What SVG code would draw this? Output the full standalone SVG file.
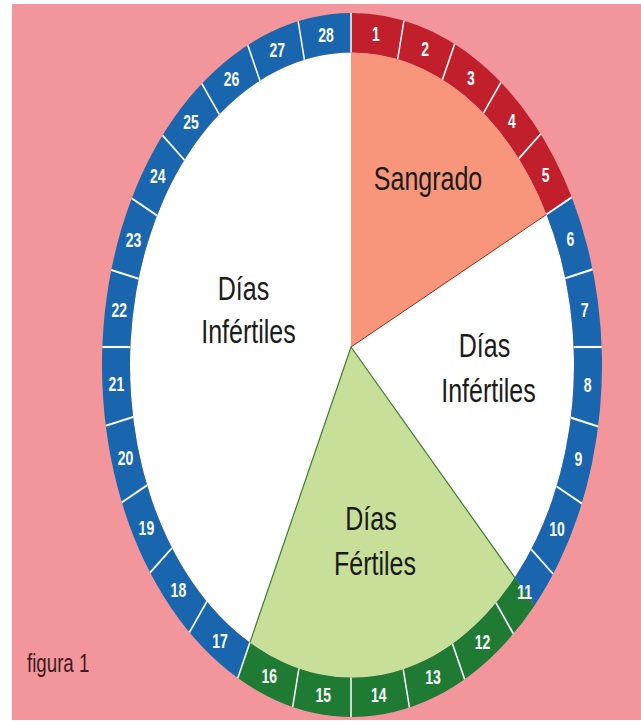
<svg xmlns="http://www.w3.org/2000/svg" width="641" height="721" viewBox="0 0 641 721">
<style>
.num{font-family:"Liberation Sans",Arial,sans-serif;font-weight:bold;font-size:14px;fill:#fff;text-anchor:middle}
.lbl{font-family:"Liberation Sans",Arial,sans-serif;font-size:25px;fill:#1a1a1a;text-anchor:middle}
.div{stroke:#fff;stroke-width:1.5;vector-effect:non-scaling-stroke}
.red{fill:#C01F2B}.blue{fill:#1966AE}.green{fill:#1F7B34}
</style>
<rect width="641" height="721" fill="#fff"/>
<rect x="12" y="4" width="629" height="716" fill="#F2969B"/>
<g id="chart" transform="translate(352,365) scale(1,1.408)">
  <g id="pie">
    <circle r="222" fill="#fff"/>
    <path id="sangrado" d="M-1,-12.78 L-1,-222 A222,222 0 0 1 194.54,-106.95 Z" fill="#F8967C"/>
    <path id="fertiles" d="M-1,-12.78 L162.76,150.98 A222,222 0 0 1 -102.09,197.14 Z" fill="#C7DF99"/>
    <path d="M-1,-12.78 L194.54,-106.95" stroke="#9A2A22" stroke-width="1" vector-effect="non-scaling-stroke" fill="none"/>
    <path d="M162.76,150.98 L-1,-12.78 L-102.09,197.14" stroke="#3E7D2E" stroke-width="1.2" vector-effect="non-scaling-stroke" fill="none"/>
  </g>
  <g id="ring">
    <path class="red" d="M-1,-250 A250,250 0 0 1 219.80,-119.11 L194.54,-106.95 A222,222 0 0 0 -1,-222 Z"/>
    <path class="blue" d="M219.80,-119.11 A250,250 0 0 1 182.57,170.79 L162.76,150.98 A222,222 0 0 0 194.54,-106.95 Z"/>
    <path class="green" d="M182.57,170.79 A250,250 0 0 1 -114.24,222.37 L-102.09,197.14 A222,222 0 0 0 162.76,150.98 Z"/>
    <path class="blue" d="M-114.24,222.37 A250,250 0 0 1 -1,-250 L-1,-222 A222,222 0 0 0 -102.09,197.14 Z"/>
  </g>
  <g id="dividers" class="div">
    <line x1="-1" y1="-250" x2="-1" y2="-222"/>
    <line x1="51.90" y1="-244.55" x2="45.67" y2="-217.25"/>
    <line x1="102.63" y1="-227.97" x2="90.48" y2="-202.73"/>
    <line x1="148.94" y1="-200.79" x2="131.47" y2="-178.89"/>
    <line x1="188.66" y1="-164.03" x2="166.75" y2="-146.56"/>
    <line x1="219.80" y1="-119.11" x2="194.54" y2="-106.95"/>
    <line x1="240.60" y1="-67.92" x2="213.26" y2="-61.68"/>
    <line x1="249.67" y1="-12.78" x2="221.63" y2="-12.78"/>
    <line x1="246.16" y1="43.63" x2="218.83" y2="37.39"/>
    <line x1="229.83" y1="98.38" x2="204.57" y2="86.22"/>
    <line x1="201.16" y1="148.44" x2="179.25" y2="130.97"/>
    <line x1="161.43" y1="190.89" x2="143.96" y2="169.00"/>
    <line x1="112.63" y1="223.18" x2="100.48" y2="197.96"/>
    <line x1="57.45" y1="243.31" x2="51.22" y2="216.02"/>
    <line x1="-1" y1="250" x2="-1" y2="222"/>
    <line x1="-59.35" y1="242.86" x2="-53.12" y2="215.56"/>
    <line x1="-114.24" y1="222.37" x2="-102.09" y2="197.14"/>
    <line x1="-162.62" y1="189.88" x2="-145.15" y2="167.98"/>
    <line x1="-201.90" y1="147.43" x2="-179.99" y2="129.96"/>
    <line x1="-230.17" y1="97.58" x2="-204.91" y2="85.42"/>
    <line x1="-246.24" y1="43.19" x2="-218.91" y2="36.96"/>
    <line x1="-249.67" y1="-12.78" x2="-221.63" y2="-12.78"/>
    <line x1="-240.72" y1="-67.49" x2="-213.38" y2="-61.25"/>
    <line x1="-220.21" y1="-118.35" x2="-194.96" y2="-106.19"/>
    <line x1="-189.48" y1="-163.09" x2="-167.57" y2="-145.61"/>
    <line x1="-150.19" y1="-199.86" x2="-132.72" y2="-177.96"/>
    <line x1="-104.27" y1="-227.22" x2="-92.11" y2="-201.98"/>
    <line x1="-53.81" y1="-244.14" x2="-47.58" y2="-216.84"/>
  </g>
  <g id="numbers" class="num">
    <text x="24.01" y="-229.78">1</text>
    <text x="73.05" y="-219.41">2</text>
    <text x="119.02" y="-198.79">3</text>
    <text x="159.85" y="-168.63">4</text>
    <text x="193.55" y="-130.02">5</text>
    <text x="218.36" y="-84.54">6</text>
    <text x="232.73" y="-34.11">7</text>
    <text x="235.59" y="18.88">8</text>
    <text x="226.35" y="71.77">9</text>
    <text x="205.11" y="121.73">10</text>
    <text x="172.66" y="165.88">11</text>
    <text x="130.56" y="201.60">12</text>
    <text x="81.03" y="226.65">13</text>
    <text x="26.86" y="239.46">14</text>
    <text x="-28.83" y="239.24">15</text>
    <text x="-82.80" y="226.00">16</text>
    <text x="-131.96" y="200.65">17</text>
    <text x="-173.63" y="164.85">18</text>
    <text x="-205.63" y="120.80">19</text>
    <text x="-226.54" y="71.14">20</text>
    <text x="-235.60" y="18.65">21</text>
    <text x="-232.77" y="-33.89">22</text>
    <text x="-218.60" y="-83.92">23</text>
    <text x="-194.16" y="-129.15">24</text>
    <text x="-160.88" y="-167.66">25</text>
    <text x="-120.48" y="-197.93">26</text>
    <text x="-74.84" y="-218.81">27</text>
    <text x="-25.99" y="-229.57">28</text>
  </g>
</g>
<g id="labels" class="lbl">
  <text transform="translate(428,190) scale(1,1.3)">Sangrado</text>
  <text transform="translate(484.5,357) scale(1,1.3)">Días</text>
  <text transform="translate(488.5,402) scale(1,1.3)">Infértiles</text>
  <text transform="translate(243.5,300) scale(1,1.3)">Días</text>
  <text transform="translate(248.5,343) scale(1,1.3)">Infértiles</text>
  <text transform="translate(371,530) scale(1,1.3)">Días</text>
  <text transform="translate(375,575) scale(1,1.3)">Fértiles</text>
</g>
<text id="figura" transform="translate(27,672) scale(0.85,1.2)" font-family="'Liberation Sans',Arial,sans-serif" font-size="22" fill="#3D1A22">figura 1</text>
</svg>
